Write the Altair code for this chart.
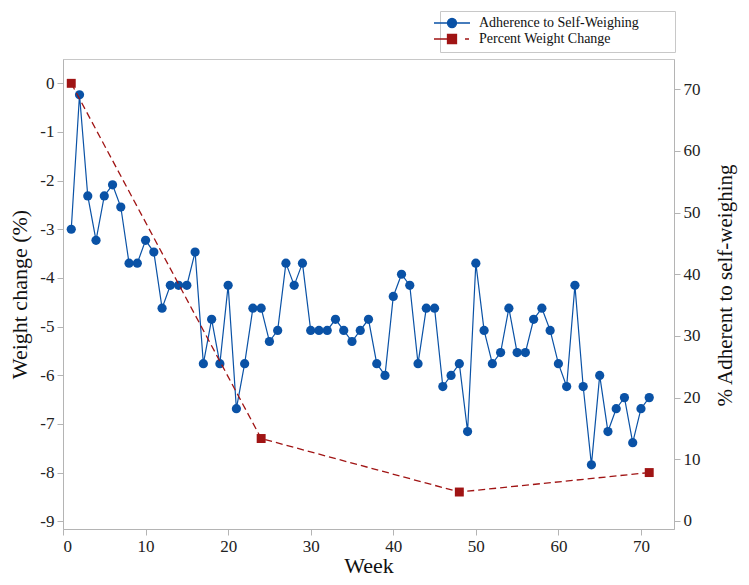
import altair as alt
import pandas as pd

# ---- data ----
weeks = list(range(1, 72))
adherence = [
    47.3, 69.1, 52.7, 45.5, 52.7, 54.5, 50.9, 41.8, 41.8, 45.5,
    43.6, 34.5, 38.2, 38.2, 38.2, 43.6, 25.5, 32.7, 25.5, 38.2,
    18.2, 25.5, 34.5, 34.5, 29.1, 30.9, 41.8, 38.2, 41.8, 30.9,
    30.9, 30.9, 32.7, 30.9, 29.1, 30.9, 32.7, 25.5, 23.6, 36.4,
    40.0, 38.2, 25.5, 34.5, 34.5, 21.8, 23.6, 25.5, 14.5, 41.8,
    30.9, 25.5, 27.3, 34.5, 27.3, 27.3, 32.7, 34.5, 30.9, 25.5,
    21.8, 38.2, 21.8, 9.1, 23.6, 14.5, 18.2, 20.0, 12.7, 18.2,
    20.0,
]
weight_weeks = [1, 24, 48, 71]
weight_change = [0.0, -7.3, -8.4, -8.0]

series_names = ["Adherence to Self-Weighing", "Percent Weight Change"]
colors = ["#0a52a6", "#a01414"]
x_ticks = [0, 10, 20, 30, 40, 50, 60, 70]
left_ticks = [0, -1, -2, -3, -4, -5, -6, -7, -8, -9]
right_ticks = [0, 10, 20, 30, 40, 50, 60, 70]

adh_df = pd.DataFrame({"week": weeks, "value": adherence, "series": series_names[0]})
wt_df = pd.DataFrame({"week": weight_weeks, "value": weight_change, "series": series_names[1]})

FONT = "Liberation Serif"
# legend glyphs: line + marker; trailing move-to widens the legend box to the right
blue_path = "M-3.6,0L3.6,0M0.9,0A0.9,0.9,0,1,1,-0.9,0A0.9,0.9,0,1,1,0.9,0ZM43,0"
red_path = "M-3.6,0L-0.9,0M2.6,0L3.4,0M-0.9,-0.9L0.9,-0.9L0.9,0.9L-0.9,0.9ZM43,0"
is_blue = f"datum.value == '{series_names[0]}'"

legend = alt.Legend(
    title=None,
    orient="none",
    legendX=377,
    legendY=-48,
    strokeColor="#c8c8c8",
    fillColor="white",
    padding=5,
    rowPadding=0,
    labelFont=FONT,
    labelFontSize=14,
    labelColor="#111",
    labelLimit=400,
    labelOffset=20,
    symbolSize=100,
    symbolStrokeWidth=1.3,
    symbolType={"expr": f"{is_blue} ? '{blue_path}' : '{red_path}'"},
    symbolStrokeColor={"expr": f"{is_blue} ? '{colors[0]}' : '{colors[1]}'"},
    symbolFillColor={"expr": f"{is_blue} ? '{colors[0]}' : '{colors[1]}'"},
)

color_scale = alt.Scale(domain=series_names, range=colors)
color = alt.Color("series:N", scale=color_scale, legend=legend)

x_enc = alt.X(
    "week:Q",
    scale=alt.Scale(domain=[0, 74], nice=False, zero=False),
    axis=alt.Axis(values=x_ticks, title="Week", titlePadding=1),
)
y_right = alt.Y(
    "value:Q",
    scale=alt.Scale(domain=[-1.3, 74.9], nice=False, zero=False),
    axis=alt.Axis(orient="right", values=right_ticks,
                  title="% Adherent to self-weighing", titlePadding=14,
                  titleAngle=270, titleBaseline="top", titleFontSize=21,
                  titleY=226),
)
y_left = alt.Y(
    "value:Q",
    scale=alt.Scale(domain=[-9.16, 0.5], nice=False, zero=False),
    axis=alt.Axis(
        orient="left", values=left_ticks, title="Weight change (%)", titlePadding=8,
        labelExpr="datum.value < 0 ? '-' + format(-datum.value, 'd') : format(datum.value, 'd')",
    ),
)

blue_base = alt.Chart(adh_df).encode(x=x_enc, y=y_right, color=color)
blue = alt.layer(
    blue_base.mark_point(filled=True, opacity=1, shape="circle", size=85),
    blue_base.mark_line(strokeWidth=1.2),
)
red_base = alt.Chart(wt_df).encode(x=x_enc, y=y_left, color=color)
red = alt.layer(
    red_base.mark_line(strokeDash=[7, 4], strokeWidth=1.3),
    red_base.mark_point(filled=True, opacity=1, shape="square", size=80),
)

chart = (
    alt.layer(blue, red)
    .resolve_scale(y="independent")
    .properties(
        width=611,
        height=470,
        autosize=alt.AutoSizeParams(type="none"),
        padding={"left": 55, "top": 51, "right": 67, "bottom": 48},
    )
    .configure_view(stroke="#c8c8c8", strokeWidth=1)
    .configure_axis(
        grid=False,
        domainColor="#b4b4b4",
        tickColor="#b4b4b4",
        tickSize=6,
        labelFont=FONT,
        labelFontSize=17,
        labelColor="#222",
        labelPadding=3,
        titleFont=FONT,
        titleFontSize=22,
        titleFontWeight="normal",
        titleColor="#111",
    )
)

chart.save("out.html", embed_options={"renderer": "svg", "actions": False})
